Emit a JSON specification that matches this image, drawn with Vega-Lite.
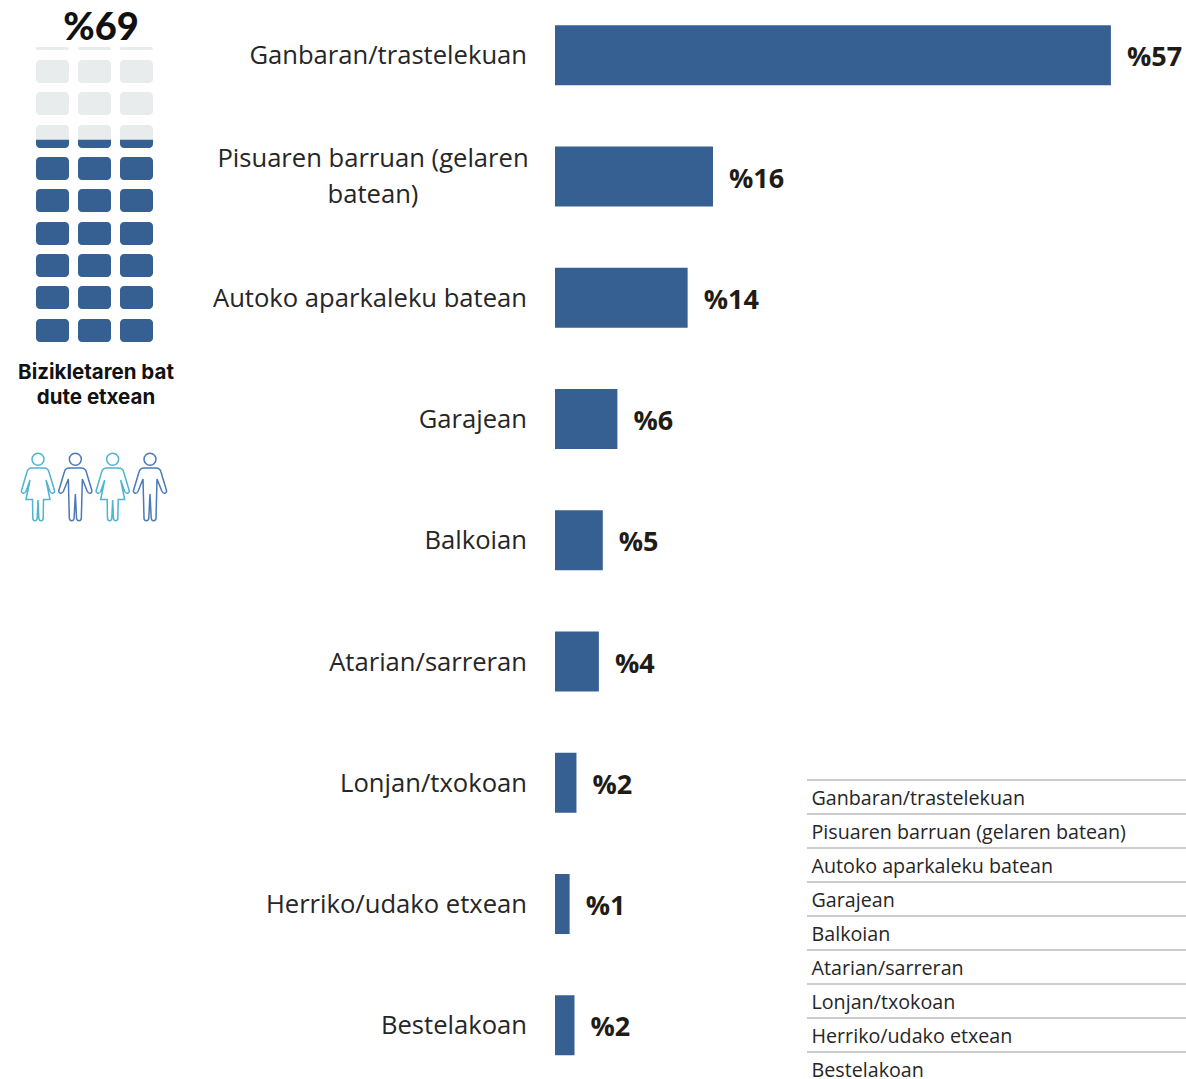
{
"$schema":"https://vega.github.io/schema/vega-lite/v6.json",
"width":1186,"height":1079,"padding":0,"autosize":{"type":"none"},
"background":"white",
"config":{"view":{"stroke":null}},
"datasets":{
"places":[
{"place":"Ganbaran/trastelekuan","wrapped":"Ganbaran/trastelekuan","lines":1,"share":57.0,"label":"%57"},
{"place":"Pisuaren barruan (gelaren batean)","wrapped":"Pisuaren barruan (gelaren\nbatean)","lines":2,"share":16.2,"label":"%16"},
{"place":"Autoko aparkaleku batean","wrapped":"Autoko aparkaleku batean","lines":1,"share":13.6,"label":"%14"},
{"place":"Garajean","wrapped":"Garajean","lines":1,"share":6.4,"label":"%6"},
{"place":"Balkoian","wrapped":"Balkoian","lines":1,"share":4.9,"label":"%5"},
{"place":"Atarian/sarreran","wrapped":"Atarian/sarreran","lines":1,"share":4.5,"label":"%4"},
{"place":"Lonjan/txokoan","wrapped":"Lonjan/txokoan","lines":1,"share":2.2,"label":"%2"},
{"place":"Herriko/udako etxean","wrapped":"Herriko/udako etxean","lines":1,"share":1.5,"label":"%1"},
{"place":"Bestelakoan","wrapped":"Bestelakoan","lines":1,"share":2.0,"label":"%2"}
],
"waffle":[
{"col":"a","low":0,"high":7.85,"state":"full"},{"col":"b","low":0,"high":7.85,"state":"full"},{"col":"c","low":0,"high":7.85,"state":"full"},
{"col":"a","low":11.26,"high":19.11,"state":"full"},{"col":"b","low":11.26,"high":19.11,"state":"full"},{"col":"c","low":11.26,"high":19.11,"state":"full"},
{"col":"a","low":22.18,"high":30.03,"state":"full"},{"col":"b","low":22.18,"high":30.03,"state":"full"},{"col":"c","low":22.18,"high":30.03,"state":"full"},
{"col":"a","low":33.1,"high":40.96,"state":"full"},{"col":"b","low":33.1,"high":40.96,"state":"full"},{"col":"c","low":33.1,"high":40.96,"state":"full"},
{"col":"a","low":44.37,"high":52.22,"state":"full"},{"col":"b","low":44.37,"high":52.22,"state":"full"},{"col":"c","low":44.37,"high":52.22,"state":"full"},
{"col":"a","low":55.29,"high":63.14,"state":"full"},{"col":"b","low":55.29,"high":63.14,"state":"full"},{"col":"c","low":55.29,"high":63.14,"state":"full"},
{"col":"a","low":66.2,"high":74.06,"state":"empty"},{"col":"b","low":66.2,"high":74.06,"state":"empty"},{"col":"c","low":66.2,"high":74.06,"state":"empty"},
{"col":"a","low":77.47,"high":85.32,"state":"empty"},{"col":"b","low":77.47,"high":85.32,"state":"empty"},{"col":"c","low":77.47,"high":85.32,"state":"empty"},
{"col":"a","low":88.39,"high":96.25,"state":"empty"},{"col":"b","low":88.39,"high":96.25,"state":"empty"},{"col":"c","low":88.39,"high":96.25,"state":"empty"},
{"col":"a","low":99.66,"high":100.68,"state":"sliver"},{"col":"b","low":99.66,"high":100.68,"state":"sliver"},{"col":"c","low":99.66,"high":100.68,"state":"sliver"}
],
"partial":[{"col":"a","low":66.2,"high":69},{"col":"b","low":66.2,"high":69},{"col":"c","low":66.2,"high":69}],
"people":[{"who":"p1","kind":"emakumea"},{"who":"p2","kind":"gizona"},{"who":"p3","kind":"emakumea"},{"who":"p4","kind":"gizona"}],
"notes":[{"slot":"cap1","text":"Bizikletaren bat"},{"slot":"cap2","text":"dute etxean"}]
},
"resolve":{"scale":{"x":"independent","y":"independent","color":"independent","shape":"independent"}},
"layer":[
{"data":{"name":"places"},
 "encoding":{
  "y":{"field":"place","type":"nominal","sort":null,"axis":null,"scale":{"range":[-5.3,1085.9],"paddingInner":0.505,"paddingOuter":0.2525}},
  "x":{"field":"share","type":"quantitative","axis":null,"scale":{"domain":[0,64.7],"range":[555,1186],"nice":false,"zero":true}}
 },
 "layer":[
  {"mark":{"type":"bar","color":"#376092"}},
  {"mark":{"type":"text","align":"left","baseline":"middle","dx":16,"dy":3,"font":"Open Sans","fontWeight":"bold","fontSize":27,"color":"#1f1c16"},
   "encoding":{"text":{"field":"label","type":"nominal"}}},
  {"transform":[{"filter":"datum.lines === 1"}],
   "mark":{"type":"text","align":"right","baseline":"middle","dx":-28,"dy":1,"font":"Open Sans","fontSize":25.6,"color":"#262626"},
   "encoding":{"x":{"datum":0},"text":{"field":"wrapped","type":"nominal"}}},
  {"transform":[{"filter":"datum.lines === 2"}],
   "mark":{"type":"text","align":"center","baseline":"middle","dx":-182,"dy":-18,"font":"Open Sans","fontSize":25.6,"lineBreak":"\n","lineHeight":36,"color":"#262626"},
   "encoding":{"x":{"datum":0},"text":{"field":"wrapped","type":"nominal"}}}
 ]},
{"data":{"name":"places"},
 "encoding":{
  "y":{"field":"place","type":"nominal","sort":null,"axis":null,"scale":{"range":[780,1086],"paddingInner":0,"paddingOuter":0}},
  "x":{"datum":0,"type":"quantitative","axis":null,"scale":{"domain":[0,1],"range":[807,1186],"nice":false}}
 },
 "layer":[
  {"mark":{"type":"rule","color":"#bdbdbd","strokeWidth":1.5},
   "encoding":{"y":{"field":"place","type":"nominal","sort":null,"axis":null,"bandPosition":0,"scale":{"range":[780,1086],"paddingInner":0,"paddingOuter":0}},"x2":{"datum":1}}},
  {"mark":{"type":"text","align":"left","baseline":"middle","dx":4.5,"dy":2,"font":"Open Sans","fontSize":19.7,"color":"#262626"},
   "encoding":{"text":{"field":"place","type":"nominal"}}}
 ]},
{"encoding":{
  "x":{"field":"col","type":"nominal","axis":null,"scale":{"domain":["a","b","c"],"range":[31.5,157.5],"paddingInner":0.214,"paddingOuter":0.107}},
  "y":{"field":"low","type":"quantitative","axis":null,"scale":{"domain":[0,101],"range":[342,46.07],"nice":false}},
  "y2":{"field":"high"}
 },
 "layer":[
  {"data":{"name":"waffle"},"transform":[{"filter":"datum.state !== 'full'"}],
   "mark":{"type":"bar","color":"#e9eced","cornerRadius":4}},
  {"data":{"name":"waffle"},"transform":[{"filter":"datum.state === 'full'"}],
   "mark":{"type":"bar","color":"#376092","cornerRadius":4}},
  {"data":{"name":"partial"},
   "mark":{"type":"bar","color":"#376092","cornerRadiusBottomLeft":4,"cornerRadiusBottomRight":4}}
 ]},
{"data":{"values":[{"slot":"pct","text":"%69"}]},
 "mark":{"type":"text","align":"center","baseline":"middle","font":"Lato","fontWeight":900,"fontSize":38,"color":"#111111"},
 "encoding":{
  "x":{"field":"slot","type":"nominal","axis":null,"scale":{"domain":["pct"],"range":[101,101]}},
  "y":{"field":"slot","type":"nominal","axis":null,"scale":{"domain":["pct"],"range":[29,29]}},
  "text":{"field":"text","type":"nominal"}
 }},
{"data":{"name":"notes"},
 "mark":{"type":"text","align":"center","baseline":"middle","font":"Inter","fontWeight":"bold","fontSize":20.5,"color":"#111111"},
 "encoding":{
  "x":{"field":"slot","type":"nominal","axis":null,"scale":{"type":"point","padding":0,"domain":["cap1","cap2"],"range":[96,96]}},
  "y":{"field":"slot","type":"nominal","axis":null,"scale":{"type":"point","padding":0,"domain":["cap1","cap2"],"range":[373,398]}},
  "text":{"field":"text","type":"nominal"}
 }},
{"data":{"name":"people"},
 "mark":{"type":"point","filled":false,"opacity":1,"strokeWidth":1.5,"size":4},
 "encoding":{
  "x":{"field":"who","type":"nominal","axis":null,"scale":{"type":"point","padding":0,"domain":["p1","p2","p3","p4"],"range":[38,150]}},
  "y":{"field":"kind","type":"nominal","axis":null,"scale":{"type":"point","padding":0,"domain":["emakumea","gizona"],"range":[488,488]}},
  "color":{"field":"kind","type":"nominal","legend":null,"scale":{"domain":["emakumea","gizona"],"range":["#4fb4cf","#4a7ab8"]}},
  "shape":{"field":"kind","type":"nominal","legend":null,"scale":{"domain":["emakumea","gizona"],"range":[
   "M6,-28.7A6,6 0 1 1 -6,-28.7A6,6 0 1 1 6,-28.7ZM0,12L0.8,30Q1,32.7 3,32.7Q5.2,32.7 5.2,30L5.5,11.5L12,11.5L8,-8L12,3.5Q13,5.5 15,5.2Q17,4.5 16.5,2.5L11,-16Q10,-20 6,-20L-6,-20Q-10,-20 -11,-16L-16.5,2.5Q-17,4.5 -15,5.2Q-13,5.5 -12,3.5L-8,-8L-12,11.5L-5.5,11.5L-5.2,30Q-5.2,32.7 -3,32.7Q-1,32.7 -0.8,30Z",
   "M6,-28.7A6,6 0 1 1 -6,-28.7A6,6 0 1 1 6,-28.7ZM0,6L1.2,30Q1.5,32.7 3.5,32.7Q6,32.7 6,30L7,-9L12,3.5Q13,5.5 15,5.2Q17,4.5 16.5,2.5L11,-16Q10,-20 6,-20L-6,-20Q-10,-20 -11,-16L-16.5,2.5Q-17,4.5 -15,5.2Q-13,5.5 -12,3.5L-7,-9L-6,30Q-6,32.7 -3.5,32.7Q-1.5,32.7 -1.2,30Z"
  ]}}
 }}
]
}
